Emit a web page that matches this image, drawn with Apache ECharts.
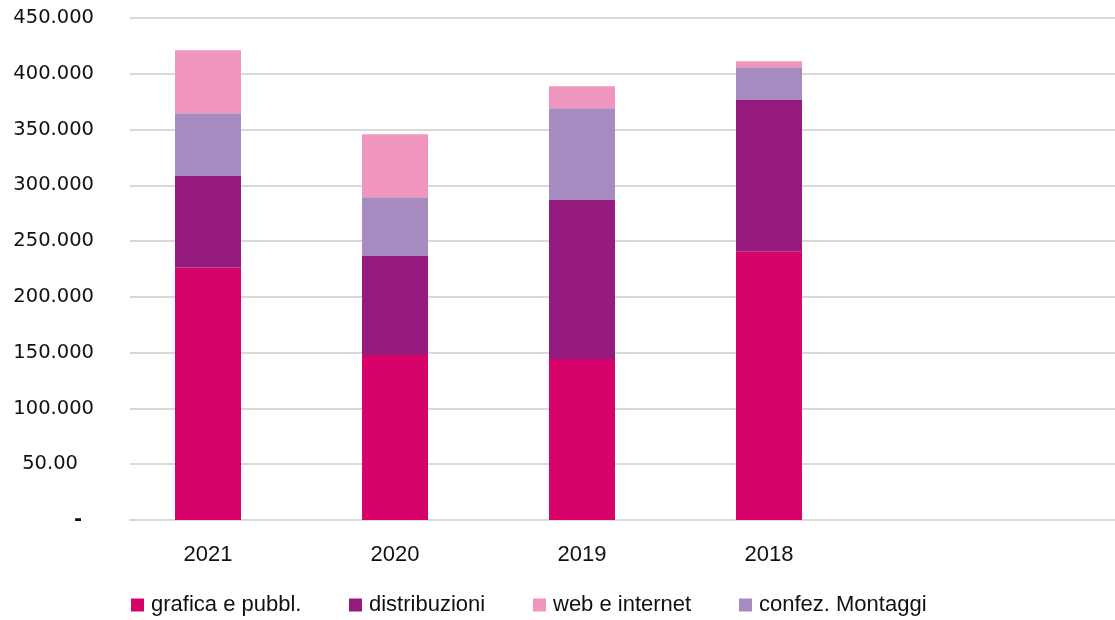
<!DOCTYPE html>
<html>
<head>
<meta charset="utf-8">
<script src="https://cdn.jsdelivr.net/npm/echarts@6/dist/echarts.min.js"></script>
<style>
  html, body { margin: 0; padding: 0; background: #fff; }
  #main { width: 1115px; height: 620px; }
</style>
</head>
<body>
<div id="main"></div>
<script>
// categorie (l'ultima colonna è vuota come nell'originale)
const years = ["2021", "2020", "2019", "2018", ""];
// valori
const grafica = [226400, 147900, 144300, 241000, null];
const distribuzioni = [81900, 88700, 142500, 135400, null];
const confez = [56400, 52800, 82400, 29500, null];
const web = [56500, 56500, 19700, 5400, null];
// etichette asse y (come nell'originale, "50.00" compreso)
const yTickLabels = ["-", "50.00", "100.000", "150.000", "200.000", "250.000", "300.000", "350.000", "400.000", "450.000"];

const colors = {
  grafica: "#d6036a",
  distribuzioni: "#951b7f",
  web: "#f095be",
  confez: "#a68bc1",
};

const gridColor = "#d9d9d9";
const labelFont = "Liberation Sans";

function legendItem(name, left) {
  return {
    data: [name],
    left: left,
    top: 594,
    padding: 0,
    itemWidth: 13,
    itemHeight: 13,
    itemGap: 0,
    icon: "rect",
    textStyle: {
      fontFamily: labelFont,
      fontSize: 22,
      color: "#111",
      padding: [0, 0, 0, 2],
    },
  };
}

const option = {
  animation: false,
  // griglia 0: linee e etichette asse y; griglia 1: barre
  grid: [
    { left: 130, right: 0, top: 18, bottom: 100 },
    { left: 114.5, width: 935, top: 18, bottom: 100 },
  ],
  legend: [
    legendItem("grafica e pubbl.", 131),
    legendItem("distribuzioni", 349),
    legendItem("web e internet", 533),
    legendItem("confez. Montaggi", 739),
  ],
  xAxis: [
    {
      gridIndex: 0,
      type: "category",
      data: [""],
      axisLine: { show: true, lineStyle: { color: gridColor, width: 2 } },
      axisTick: { show: false },
      axisLabel: { show: false },
    },
    {
      gridIndex: 1,
      type: "category",
      data: years,
      axisLine: { show: false },
      axisTick: { show: false },
      axisLabel: {
        margin: 24,
        fontFamily: labelFont,
        fontSize: 22,
        color: "#111",
      },
    },
  ],
  yAxis: [
    {
      gridIndex: 0,
      type: "value",
      min: 0,
      max: 450000,
      interval: 50000,
      axisLine: { show: false },
      axisTick: { show: false },
      splitLine: { lineStyle: { color: gridColor, width: 2 } },
      axisLabel: {
        margin: 36,
        fontFamily: "DejaVu Sans",
        fontSize: 19.5,
        color: "#111",
        formatter: (value, index) => {
          const label = yTickLabels[index];
          if (index === 0) return "{dash|" + label + "}";
          if (index === 1) return "{short|" + label + "}";
          return label;
        },
        rich: {
          dash: { fontFamily: "DejaVu Sans", fontSize: 19.5, fontWeight: "bold", color: "#111", padding: [0, 12, 0, 0] },
          short: { fontFamily: "DejaVu Sans", fontSize: 19.5, color: "#111", padding: [0, 16, 0, 0] },
        },
      },
    },
    {
      gridIndex: 1,
      type: "value",
      min: 0,
      max: 450000,
      show: false,
      splitLine: { show: false },
    },
  ],
  series: [
    {
      name: "grafica e pubbl.",
      type: "bar",
      stack: "tot",
      xAxisIndex: 1,
      yAxisIndex: 1,
      barWidth: 66,
      itemStyle: { color: colors.grafica },
      data: grafica,
    },
    {
      name: "distribuzioni",
      type: "bar",
      stack: "tot",
      xAxisIndex: 1,
      yAxisIndex: 1,
      barWidth: 66,
      itemStyle: { color: colors.distribuzioni },
      data: distribuzioni,
    },
    {
      name: "confez. Montaggi",
      type: "bar",
      stack: "tot",
      xAxisIndex: 1,
      yAxisIndex: 1,
      barWidth: 66,
      itemStyle: { color: colors.confez },
      data: confez,
    },
    {
      name: "web e internet",
      type: "bar",
      stack: "tot",
      xAxisIndex: 1,
      yAxisIndex: 1,
      barWidth: 66,
      itemStyle: { color: colors.web },
      data: web,
    },
  ],
};

var chartDom = document.getElementById("main");
var myChart = echarts.init(chartDom);
myChart.setOption(option);
</script>
</body>
</html>
